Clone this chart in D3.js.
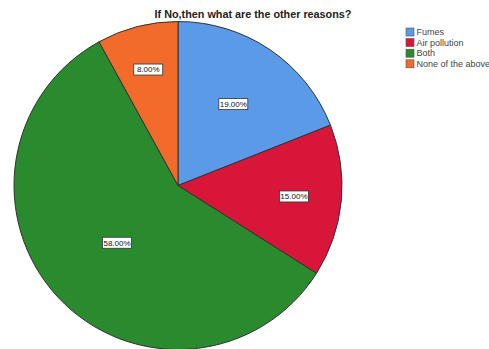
<!DOCTYPE html>
<html>
<head>
<meta charset="utf-8">
<script src="https://cdn.jsdelivr.net/npm/d3@7"></script>
<style>
  body { margin: 0; background: #fff; }
  svg { display: block; font-family: "Liberation Sans", Arial, sans-serif; }
</style>
</head>
<body>
<div id="chart"></div>
<script>
var categories = ["Fumes", "Air pollution", "Both", "None of the above"];
var percents = [19, 15, 58, 8];
var colors = ["#5a9ae6", "#d7163a", "#2a8a2e", "#f26b2a"];
// label distance from centre, as a fraction of the radius
var labelRadius = [0.6, 0.71, 0.51, 0.73];

var width = 489, height = 349;
var cx = 178, cy = 185.5, r = 164;

var svg = d3.select("#chart").append("svg")
    .attr("width", width)
    .attr("height", height);

svg.append("text")
    .attr("x", 253)
    .attr("y", 18)
    .attr("text-anchor", "middle")
    .attr("font-size", 10.8)
    .attr("font-weight", "bold")
    .attr("fill", "#222")
    .text("If No,then what are the other reasons?");

var data = categories.map(function(c, i) { return { name: c, value: percents[i], i: i }; });

var pie = d3.pie()
    .sort(null)
    .value(function(d) { return d.value; });

var arc = d3.arc().innerRadius(0).outerRadius(r);

var g = svg.append("g").attr("transform", "translate(" + cx + "," + cy + ")");

var arcs = pie(data);

g.selectAll("path")
    .data(arcs)
    .enter().append("path")
    .attr("d", arc)
    .attr("fill", function(d) { return colors[d.data.i]; })
    .attr("stroke", "#333")
    .attr("stroke-width", 1);

var labels = g.selectAll("g.lbl")
    .data(arcs)
    .enter().append("g")
    .attr("class", "lbl")
    .attr("transform", function(d) {
        var a = (d.startAngle + d.endAngle) / 2;
        var rr = r * labelRadius[d.data.i];
        return "translate(" + (Math.sin(a) * rr) + "," + (-Math.cos(a) * rr) + ")";
    });

labels.append("rect")
    .attr("x", -14.5)
    .attr("y", -5.5)
    .attr("width", 29)
    .attr("height", 11)
    .attr("fill", "#fff")
    .attr("stroke", "#333")
    .attr("stroke-width", 0.8);

labels.append("text")
    .attr("text-anchor", "middle")
    .attr("dy", "0.35em")
    .attr("font-size", 8)
    .attr("fill", "#111")
    .text(function(d) { return d3.format(".2f")(d.data.value) + "%"; });

var legend = svg.append("g").attr("transform", "translate(406,28)");

var items = legend.selectAll("g")
    .data(categories)
    .enter().append("g")
    .attr("transform", function(d, i) { return "translate(0," + (i * 10.6) + ")"; });

items.append("rect")
    .attr("width", 8)
    .attr("height", 8)
    .attr("fill", function(d, i) { return colors[i]; })
    .attr("stroke", "#555")
    .attr("stroke-width", 0.6);

items.append("text")
    .attr("x", 10.5)
    .attr("y", 4)
    .attr("dy", "0.35em")
    .attr("font-size", 9)
    .attr("fill", "#444")
    .text(function(d) { return d; });
</script>
</body>
</html>
